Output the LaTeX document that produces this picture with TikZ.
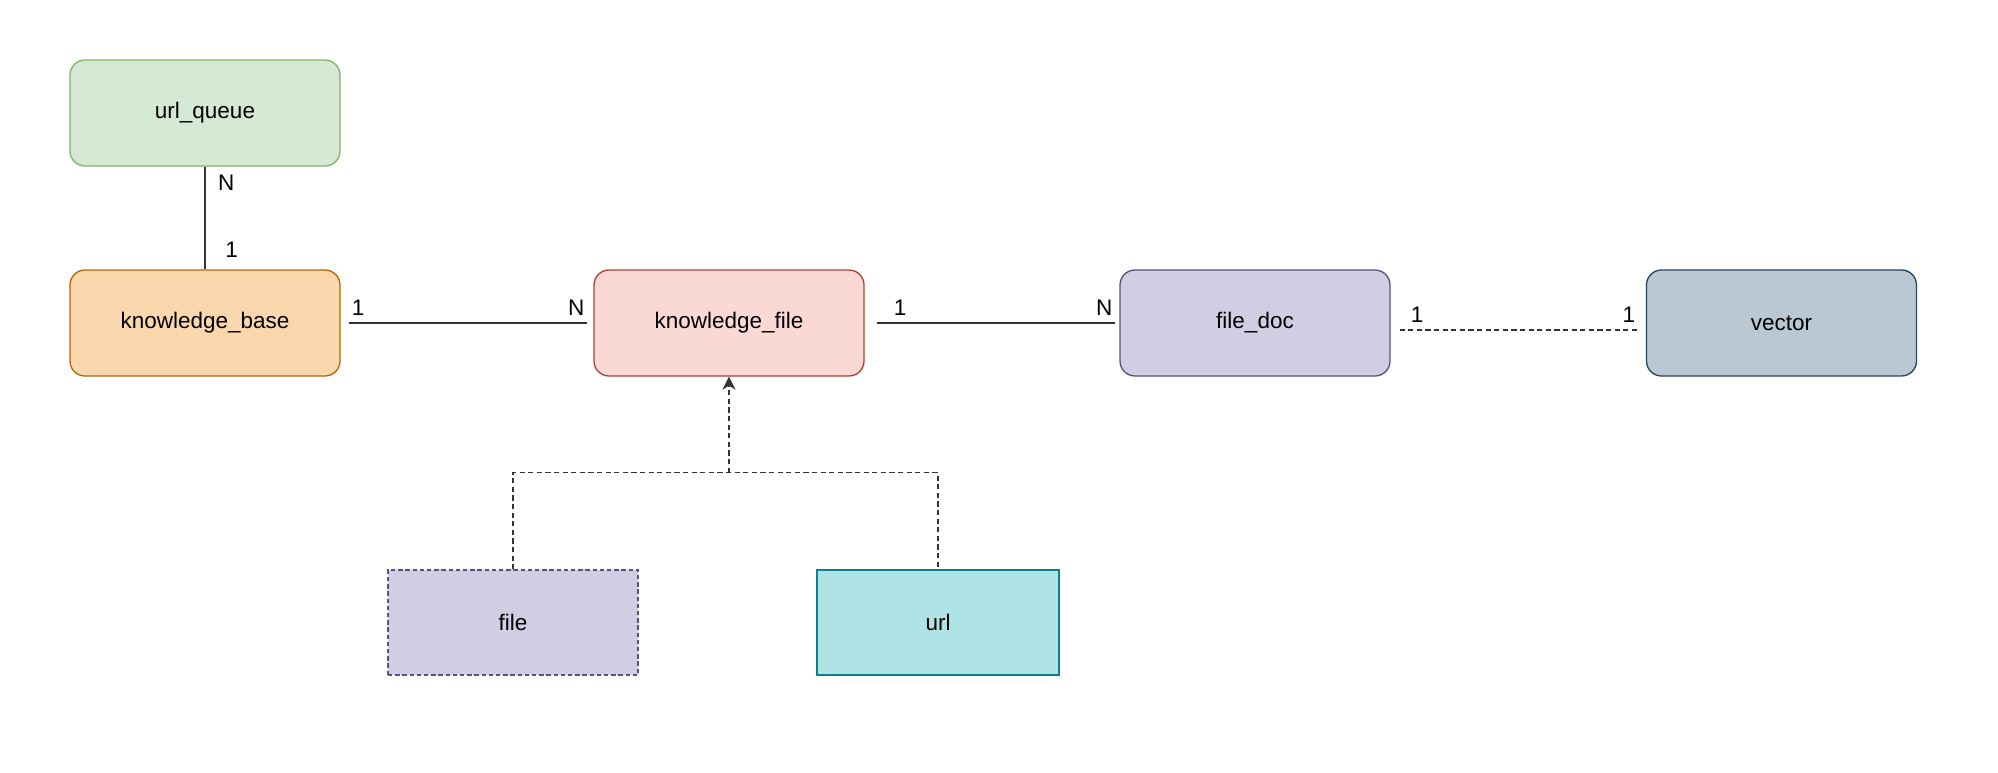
\documentclass[tikz,border=0pt]{standalone}
\usepackage{fontspec}
\setmainfont{Liberation Sans}
\usetikzlibrary{arrows.meta}
\definecolor{queuefill}{HTML}{D5E8D4}
\definecolor{queueline}{HTML}{82B366}
\definecolor{basefill}{HTML}{FAD7AC}
\definecolor{baseline}{HTML}{B46504}
\definecolor{kfilefill}{HTML}{FAD9D5}
\definecolor{kfileline}{HTML}{AE4132}
\definecolor{docfill}{HTML}{D0CEE2}
\definecolor{docline}{HTML}{56517E}
\definecolor{vecfill}{HTML}{BAC8D3}
\definecolor{vecline}{HTML}{23445D}
\definecolor{urlfill}{HTML}{B0E3E6}
\definecolor{urlline}{HTML}{0E8088}
\begin{document}
\begin{tikzpicture}
        [x=0.5pt,y=-0.5pt,
        font=\fontsize{11.25}{13.5}\selectfont,
        entity/.style={rectangle,rounded corners=7.5pt,line width=0.65pt,minimum width=135pt,minimum height=53pt,inner sep=0pt},
        source/.style={rectangle,line width=0.65pt,minimum height=52.5pt,inner sep=0pt},
        line/.style={line width=0.75pt,draw=black!80},
        link/.style={line width=0.75pt,draw=black!80,dash pattern=on 2.6pt off 1.7pt},
        card/.style={inner sep=0pt}]
    \useasboundingbox (0,0) rectangle (1998,772);
    \node[entity,fill=queuefill,draw=queueline] (queue) at (205,113) {url\_queue};
    \node[entity,fill=basefill,draw=baseline] (base) at (205,323) {knowledge\_base};
    \node[entity,fill=kfilefill,draw=kfileline] (kfile) at (729,323) {knowledge\_file};
    \node[entity,fill=docfill,draw=docline] (doc) at (1255,323) {file\_doc};
    \node[entity,fill=vecfill,draw=vecline] (vec) at (1781.5,323) {vector};
    \node[source,minimum width=125pt,fill=docfill,draw=docline,dash pattern=on 2.2pt off 1.4pt] (file) at (513,622.5) {file};
    \node[source,minimum width=121pt,fill=urlfill,draw=urlline] (url) at (938,622.5) {url};
    \coordinate (split) at (729,472.7);
    \draw[line] (queue) --
        node[card,pos=0,anchor=base west,xshift=6.15pt,yshift=-12pt] {N}
        node[card,pos=1,anchor=base west,xshift=9.75pt,yshift=6pt] {1} (base);
    \draw[line,shorten <=4pt,shorten >=3pt] (base) --
        node[card,pos=0,anchor=base west,xshift=5.25pt,yshift=4pt] {1}
        node[card,pos=1,anchor=base east,xshift=-4.15pt,yshift=4pt] {N} (kfile);
    \draw[line,shorten <=6pt,shorten >=2pt] (kfile) --
        node[card,pos=0,anchor=base west,xshift=14.25pt,yshift=4pt] {1}
        node[card,pos=1,anchor=base east,xshift=-3.15pt,yshift=4pt] {N} (doc);
    \draw[link,shorten <=4.5pt,shorten >=4.5pt] ([yshift=-3.5pt]doc.east) --
        node[card,pos=0,anchor=base west,xshift=9.75pt,yshift=4pt] {1}
        node[card,pos=1,anchor=base east,xshift=-5pt,yshift=4pt] {1} ([yshift=-3.5pt]vec.west);
    \draw[link] (file.north) |- (split) -| (url.north);
    \draw[link,-{Stealth[length=6.5pt,width=6.5pt,inset=2pt]}] (split) -- (kfile.south);
\end{tikzpicture}
\end{document}
